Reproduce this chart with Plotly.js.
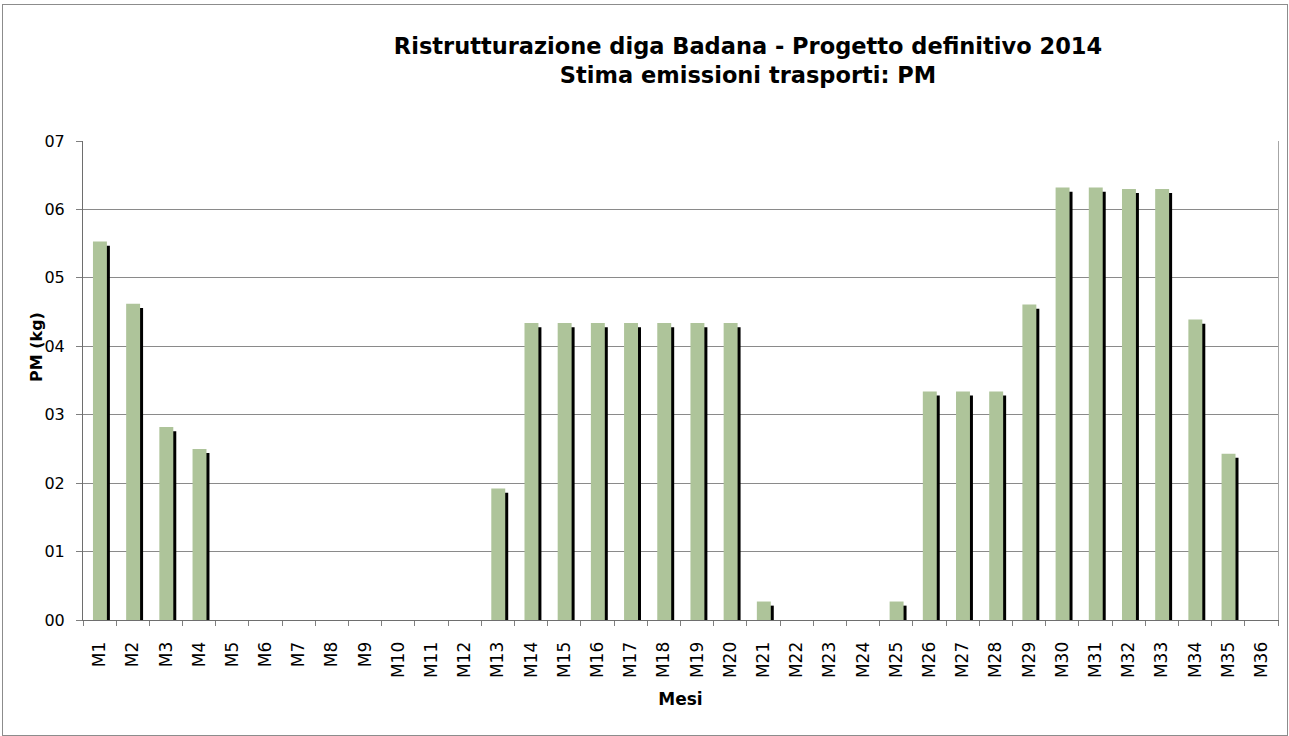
<!DOCTYPE html>
<html>
<head>
<meta charset="utf-8">
<script src="https://cdn.plot.ly/plotly-3.0.1.min.js"></script>
<style>
  html, body { margin: 0; padding: 0; background: #fff; }
  #chart { width: 1289px; height: 736px; }
  #frame { position: absolute; left: 2px; top: 4px; width: 1284px; height: 730px; border: 1px solid #8c8c8c; pointer-events: none; }
</style>
</head>
<body>
<div id="chart"></div>
<div id="frame"></div>
<script>
const months = ["M1","M2","M3","M4","M5","M6","M7","M8","M9","M10","M11","M12",
  "M13","M14","M15","M16","M17","M18","M19","M20","M21","M22","M23","M24",
  "M25","M26","M27","M28","M29","M30","M31","M32","M33","M34","M35","M36"];
const pmValues = [5.53, 4.62, 2.82, 2.50, 0, 0, 0, 0, 0, 0, 0, 0,
  1.92, 4.34, 4.34, 4.34, 4.34, 4.34, 4.34, 4.34, 0.27, 0, 0, 0,
  0.27, 3.34, 3.34, 3.34, 4.61, 6.32, 6.32, 6.30, 6.30, 4.39, 2.43, 0];
const yTickVals = [0, 1, 2, 3, 4, 5, 6, 7];
const yTickLabels = ["00", "01", "02", "03", "04", "05", "06", "07"];

const font = "DejaVu Sans, Verdana, sans-serif";

// shadow drawn on the base axis (y2), shifted down a few pixels via its range
const shadow = {
  type: "bar", x: months, y: pmValues, xaxis: "x", yaxis: "y2",
  marker: { color: "#000000" }, width: 0.42, offset: -0.11,
  hoverinfo: "skip", showlegend: false
};
// main bars on the overlaying axis (drawn on top)
const bars = {
  type: "bar", x: months, y: pmValues, xaxis: "x", yaxis: "y",
  marker: { color: "rgb(174,196,154)" }, width: 0.42, offset: -0.2,
  showlegend: false
};

const layout = {
  width: 1289, height: 736,
  margin: { l: 83, r: 11, t: 141, b: 116 },
  paper_bgcolor: "#ffffff", plot_bgcolor: "#ffffff",
  barmode: "overlay",
  showlegend: false,
  font: { family: font, color: "#000", size: 14 },
  title: {
    text: "<b>Ristrutturazione diga Badana - Progetto definitivo 2014<br>Stima emissioni trasporti: PM</b>",
    font: { family: font, size: 22.5, color: "#000" },
    xref: "container", x: 748 / 1289, xanchor: "center",
    yref: "container", y: 1 - 54 / 736, yanchor: "top"
  },
  xaxis: {
    type: "category",
    tickangle: -90,
    tickson: "boundaries",
    ticks: "outside", ticklen: 5, tickcolor: "#7f7f7f",
    ticklabelstandoff: 14,
    showgrid: false,
    showline: true, linecolor: "#6e6e6e", linewidth: 1,
    tickfont: { family: font, size: 17, color: "#000" },
    title: { text: "<b>Mesi</b>", font: { family: font, size: 17, color: "#000" }, standoff: 15 },
    automargin: false
  },
  yaxis: {
    overlaying: "y2",
    range: [0, 7],
    tickvals: yTickVals, ticktext: yTickLabels,
    ticks: "outside", ticklen: 6, tickcolor: "#7f7f7f",
    ticklabelstandoff: 8,
    showgrid: true, gridcolor: "#8a8a8a", gridwidth: 1,
    zeroline: false,
    showline: true, linecolor: "#6e6e6e", linewidth: 1,
    tickfont: { family: font, size: 16, color: "#000" },
    automargin: false
  },
  yaxis2: {
    side: "right",
    range: [0.06, 7.06],
    showgrid: false, zeroline: false, showticklabels: false, ticks: "",
    showline: true, linecolor: "#a6a6a6", linewidth: 1
  },
  annotations: [{
    text: "<b>PM (kg)</b>", textangle: -90, showarrow: false,
    xref: "paper", yref: "paper",
    x: (36 - 83) / 1195, y: (620 - 347) / 479,
    xanchor: "center", yanchor: "middle",
    font: { family: font, size: 16, color: "#000" }
  }]
};

Plotly.newPlot("chart", [shadow, bars], layout, { displayModeBar: false, staticPlot: true });
</script>
</body>
</html>
